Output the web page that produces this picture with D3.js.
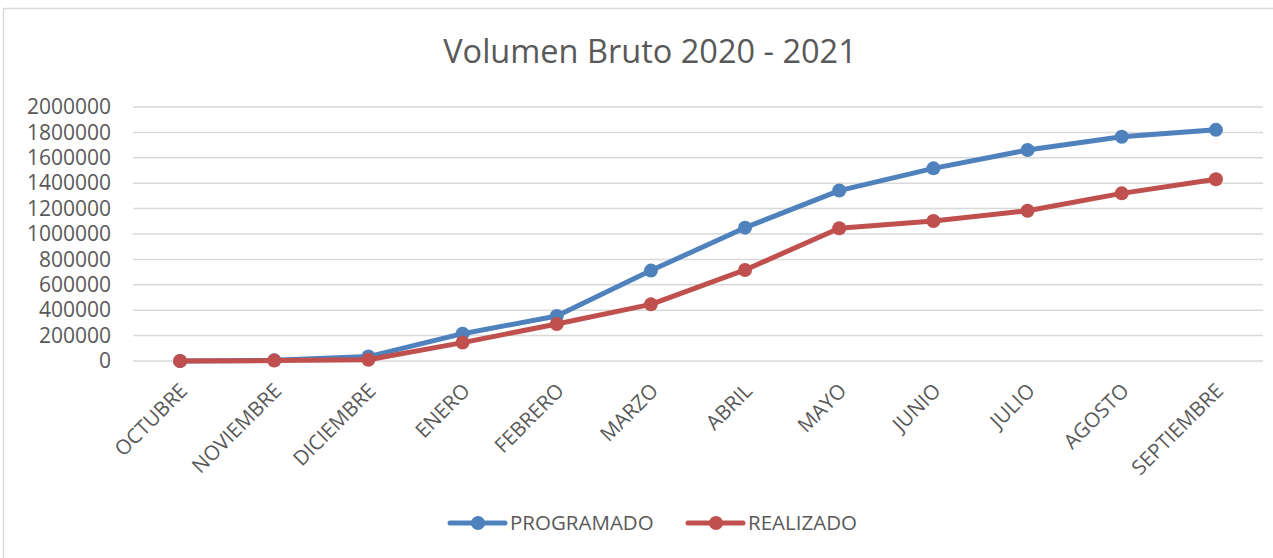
<!DOCTYPE html>
<html>
<head>
<meta charset="utf-8">
<script src="https://cdn.jsdelivr.net/npm/d3@7"></script>
<style>
  body { margin: 0; background: #fff; }
  text { font-family: "Open Sans", sans-serif; fill: #595959; }
</style>
</head>
<body>
<div id="chart"></div>
<script>
// chart data
var months = ["OCTUBRE", "NOVIEMBRE", "DICIEMBRE", "ENERO", "FEBRERO", "MARZO",
              "ABRIL", "MAYO", "JUNIO", "JULIO", "AGOSTO", "SEPTIEMBRE"];
var programado = [0, 5000, 35000, 215000, 354000, 712000, 1050000, 1342000, 1517000, 1661000, 1766000, 1820000];
var realizado  = [0, 3000, 10000, 145000, 291000, 446000, 717000, 1045000, 1102000, 1183000, 1320000, 1431000];
var yTicks = [0, 200000, 400000, 600000, 800000, 1000000, 1200000, 1400000, 1600000, 1800000, 2000000];

var series = [
  { name: "PROGRAMADO", values: programado, color: "#4f81bd" },
  { name: "REALIZADO",  values: realizado,  color: "#c0504d" }
];

var W = 1273, H = 558;
var margin = { top: 107, right: 10, bottom: 197, left: 133 },
    width  = W - margin.left - margin.right,
    height = H - margin.top - margin.bottom;

var svg = d3.select("#chart").append("svg")
            .attr("width", W)
            .attr("height", H);

// outer chart frame
svg.append("rect")
   .attr("x", 3.5).attr("y", 8.5)
   .attr("width", W + 10).attr("height", H + 10)
   .attr("fill", "#fff")
   .attr("stroke", "#d9d9d9")
   .attr("stroke-width", 1.5);

svg.append("text")
   .attr("x", 650)
   .attr("y", 63)
   .attr("text-anchor", "middle")
   .style("font-size", "32.5px")
   .text("Volumen Bruto 2020 - 2021");

var g = svg.append("g")
           .attr("transform", "translate(" + margin.left + "," + margin.top + ")");

var x = d3.scalePoint()
          .domain(months)
          .range([0, width])
          .padding(0.5);

var y = d3.scaleLinear()
          .domain([0, 2000000])
          .range([height, 0]);

// horizontal gridlines
g.selectAll(".grid")
 .data(yTicks)
 .enter().append("line")
 .attr("x1", 0).attr("x2", width)
 .attr("y1", function(d) { return y(d); })
 .attr("y2", function(d) { return y(d); })
 .attr("stroke", "#d9d9d9")
 .attr("stroke-width", 1.5);

// y axis labels
var yAxis = g.append("g")
             .call(d3.axisLeft(y).tickValues(yTicks).tickSize(0).tickPadding(22)
               .tickFormat(function(d) { return String(d); }));
yAxis.select(".domain").remove();
yAxis.selectAll("text")
     .style("font-size", "21px")
     .style("fill", "#595959")
     .style("font-family", "'Open Sans', sans-serif");

// x axis labels, rotated
var xAxis = g.append("g")
             .attr("transform", "translate(0," + height + ")")
             .call(d3.axisBottom(x).tickSize(0).tickPadding(0));
xAxis.select(".domain").remove();
xAxis.selectAll("text")
     .attr("text-anchor", "end")
     .attr("dy", "0.35em")
     .attr("transform", "translate(3,26) rotate(-45)")
     .style("font-size", "20.5px")
     .style("fill", "#595959")
     .style("font-family", "'Open Sans', sans-serif");

var line = d3.line()
             .x(function(d, i) { return x(months[i]); })
             .y(function(d) { return y(d); });

series.forEach(function(s) {
  g.append("path")
   .datum(s.values)
   .attr("fill", "none")
   .attr("stroke", s.color)
   .attr("stroke-width", 5)
   .attr("stroke-linejoin", "round")
   .attr("stroke-linecap", "round")
   .attr("d", line);

  g.selectAll(".dot-" + s.name)
   .data(s.values)
   .enter().append("circle")
   .attr("cx", function(d, i) { return x(months[i]); })
   .attr("cy", function(d) { return y(d); })
   .attr("r", 7)
   .attr("fill", s.color);
});

// legend
var legendPos = [450, 688];
var legend = svg.selectAll(".legend")
                .data(series)
                .enter().append("g")
                .attr("transform", function(d, i) { return "translate(" + legendPos[i] + ",523)"; });

legend.append("line")
      .attr("x1", 0).attr("x2", 55)
      .attr("stroke", function(d) { return d.color; })
      .attr("stroke-width", 5)
      .attr("stroke-linecap", "round");
legend.append("circle")
      .attr("cx", 28).attr("r", 7)
      .attr("fill", function(d) { return d.color; });
legend.append("text")
      .attr("x", 60)
      .attr("dy", "0.35em")
      .style("font-size", "20.5px")
      .text(function(d) { return d.name; });
</script>
</body>
</html>
